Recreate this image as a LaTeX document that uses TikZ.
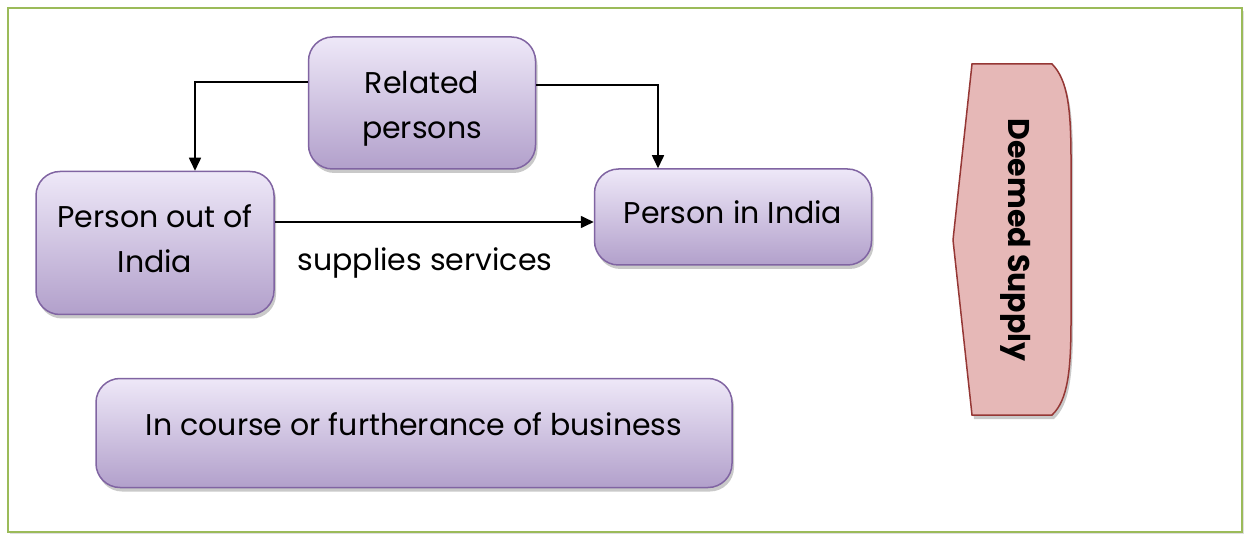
\documentclass[tikz,border=0pt]{standalone}
\usepackage{fontspec}
\setmainfont{Poppins}
\usetikzlibrary{arrows.meta,shadows}
\definecolor{boxtop}{HTML}{EEE8F8}
\definecolor{boxbot}{HTML}{B2A0CB}
\definecolor{boxline}{HTML}{8064A2}
\definecolor{frame}{HTML}{9BBB59}
\definecolor{dsfill}{HTML}{E6B8B7}
\definecolor{dsline}{HTML}{953735}
\begin{document}
\begin{tikzpicture}[x=1pt,y=-1pt,
  purplebox/.style={draw=boxline,line width=1.5pt,rounded corners=24pt,
    top color=boxtop,bottom color=boxbot,align=center,inner sep=0pt,
    font=\fontsize{30}{45}\selectfont,
    drop shadow={shadow xshift=2pt,shadow yshift=-4pt,opacity=0.35,fill=black!60}},
  conn/.style={line width=1.6pt,-{Triangle[width=12pt,length=13pt]}}]
\useasboundingbox (0,0) rectangle (1244,534);
\fill[white] (0,0) rectangle (1244,534);
\draw[frame,line width=2.5pt,drop shadow={shadow xshift=2pt,shadow yshift=-3pt,opacity=0.25}] (8,8) rectangle (1242,532);
\draw[frame,line width=2.5pt,fill=white] (8,8) rectangle (1242,532);
\node[purplebox,minimum width=227pt,minimum height=132pt,text height=80pt,text depth=8pt] (rel) at (422,103) {Related\\persons};
\node[purplebox,minimum width=238pt,minimum height=143pt,text height=68pt,text depth=8pt] (por) at (155,243) {Person out of\\India};
\node[purplebox,minimum width=277pt,minimum height=96pt,text height=21pt,text depth=7pt] (pin) at (733,217) {Person in India};
\node[purplebox,minimum width=636pt,minimum height=109pt,text height=21pt,text depth=17pt] (crs) at (414,433) {In course or furtherance of business};
\draw[conn] (rel.west |- 0,82) -| (por.north -| 195,0);
\draw[conn] (rel.east |- 0,85) -| (pin.north -| 658,0);
\draw[conn] (por.east |- 0,222) -- (pin.west |- 0,222);
\node[font=\fontsize{30}{34}\selectfont,text height=21pt,text depth=7pt,inner sep=0pt] (lbl) at (425,264) {supplies services};
\draw[dsline,line width=1.5pt,fill=dsfill,drop shadow={shadow xshift=2pt,shadow yshift=-4pt,opacity=0.35,fill=black!60}]
  (972,64) -- (1052,64) .. controls (1068,80) and (1071,110) .. (1071,160)
  -- (1071,320) .. controls (1071,370) and (1068,400) .. (1052,415)
  -- (972,415) -- (953,240) -- cycle;
\node[rotate=-90,font=\fontsize{30}{34}\selectfont\bfseries] (ds) at (1016,240) {Deemed Supply};
\end{tikzpicture}
\end{document}
